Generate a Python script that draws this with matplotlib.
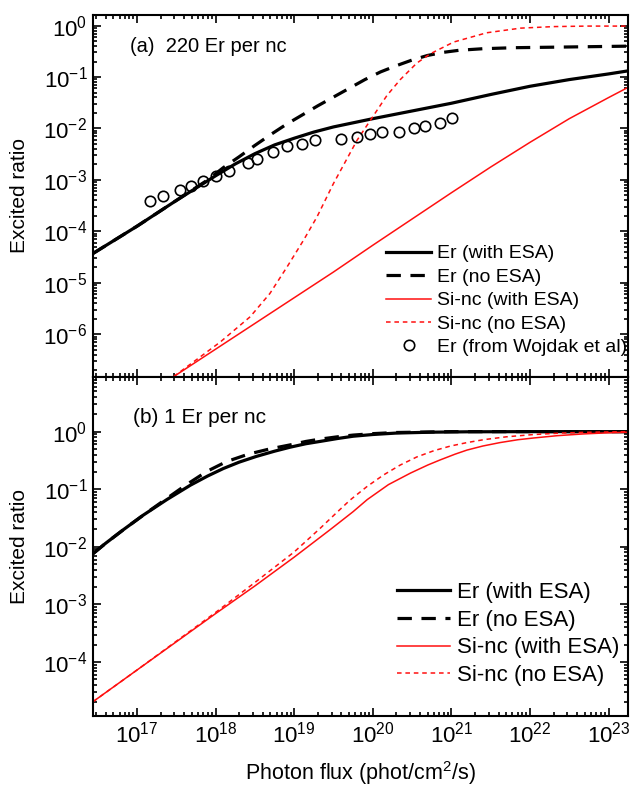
import numpy as np
import matplotlib
matplotlib.use("Agg")
import matplotlib.pyplot as plt
from matplotlib.ticker import LogLocator, NullFormatter

plt.rcParams['font.family'] = ['Liberation Sans', 'DejaVu Sans']
plt.rcParams['mathtext.fontset'] = 'custom'
plt.rcParams['mathtext.rm'] = 'Liberation Sans'
plt.rcParams['mathtext.it'] = 'Liberation Sans:italic'
plt.rcParams['mathtext.default'] = 'regular'

# all values are log10 of photon flux / excited ratio
# (a) 220 Er per nc
a_er_esa_x = [16.44, 17.0, 17.5, 18.0, 18.25, 18.5, 18.75, 19.0, 19.25, 19.5, 19.75, 20.0, 20.3, 20.6, 21.0, 21.5, 22.0, 22.5, 23.0, 23.25]
a_er_esa_y = [-4.43, -3.90, -3.40, -2.92, -2.69, -2.49, -2.32, -2.19, -2.07, -1.97, -1.89, -1.81, -1.72, -1.63, -1.51, -1.34, -1.18, -1.05, -0.94, -0.88]

a_er_noesa_x = [16.44, 17.0, 17.5, 17.9, 18.1, 18.3, 18.5, 18.7, 18.9, 19.1, 19.3, 19.5, 19.7, 19.9, 20.1, 20.3, 20.5, 20.7, 20.9, 21.1, 21.4, 21.8, 22.3, 23.25]
a_er_noesa_y = [-4.43, -3.90, -3.40, -3.00, -2.76, -2.55, -2.33, -2.12, -1.92, -1.74, -1.56, -1.39, -1.22, -1.05, -0.90, -0.78, -0.67, -0.58, -0.52, -0.48, -0.45, -0.43, -0.42, -0.40]

a_si_esa_x = [17.2, 17.46, 18.0, 18.5, 19.0, 19.5, 20.0, 20.5, 21.0, 21.5, 22.0, 22.5, 23.0, 23.25]
a_si_esa_y = [-7.09, -6.83, -6.29, -5.79, -5.29, -4.79, -4.27, -3.76, -3.25, -2.75, -2.27, -1.81, -1.40, -1.20]

a_si_noesa_x = [17.2, 17.46, 18.06, 18.44, 18.69, 18.91, 19.12, 19.29, 19.50, 19.65, 19.80, 19.97, 20.18, 20.35, 20.56, 20.73, 21.03, 21.45, 21.88, 22.3, 22.73, 23.25]
a_si_noesa_y = [-7.09, -6.83, -6.15, -5.66, -5.21, -4.69, -4.17, -3.72, -3.07, -2.65, -2.23, -1.84, -1.36, -1.05, -0.73, -0.55, -0.32, -0.14, -0.05, -0.02, -0.01, -0.01]

wojdak_x = [17.17, 17.33, 17.55, 17.69, 17.84, 18.01, 18.17, 18.41, 18.53, 18.73, 18.91, 19.10, 19.27, 19.59, 19.80, 19.97, 20.12, 20.34, 20.52, 20.66, 20.85, 21.01]
wojdak_y = [-3.40, -3.31, -3.19, -3.11, -3.02, -2.92, -2.82, -2.67, -2.59, -2.45, -2.35, -2.30, -2.22, -2.20, -2.16, -2.10, -2.06, -2.06, -2.00, -1.96, -1.89, -1.79]

# (b) 1 Er per nc
b_er_esa_x = [16.44, 16.6, 16.83, 17.08, 17.38, 17.68, 17.9, 18.10, 18.3, 18.52, 18.75, 18.95, 19.15, 19.33, 19.55, 19.75, 20.0, 20.3, 20.73, 21.2, 22.0, 23.25]
b_er_esa_y = [-2.12, -1.94, -1.70, -1.45, -1.18, -0.93, -0.77, -0.64, -0.53, -0.43, -0.34, -0.27, -0.21, -0.17, -0.12, -0.08, -0.05, -0.025, -0.01, -0.003, 0.0, 0.0]

b_er_noesa_x = [16.44, 16.6, 16.83, 17.08, 17.38, 17.62, 17.89, 18.14, 18.42, 18.69, 18.95, 19.15, 19.33, 19.55, 19.75, 20.0, 20.3, 21.0, 23.25]
b_er_noesa_y = [-2.12, -1.94, -1.70, -1.45, -1.16, -0.93, -0.69, -0.52, -0.39, -0.30, -0.23, -0.17, -0.13, -0.09, -0.06, -0.035, -0.015, 0.0, 0.0]

b_si_esa_x = [16.44, 17.0, 18.0, 18.5, 19.0, 19.46, 19.75, 19.93, 20.2, 20.48, 20.7, 20.86, 21.05, 21.2, 21.4, 21.62, 21.85, 22.05, 22.35, 22.68, 23.0, 23.25]
b_si_esa_y = [-4.69, -4.14, -3.16, -2.68, -2.18, -1.70, -1.39, -1.18, -0.92, -0.72, -0.58, -0.49, -0.39, -0.32, -0.25, -0.19, -0.14, -0.11, -0.07, -0.04, -0.02, -0.01]

b_si_noesa_x = [16.44, 17.0, 18.0, 18.5, 19.0, 19.33, 19.53, 19.71, 19.93, 20.14, 20.35, 20.56, 20.78, 20.99, 21.2, 21.41, 21.7, 22.05, 22.4, 22.7, 23.25]
b_si_noesa_y = [-4.69, -4.14, -3.14, -2.62, -2.09, -1.68, -1.42, -1.19, -0.95, -0.75, -0.58, -0.44, -0.33, -0.25, -0.19, -0.14, -0.09, -0.05, -0.025, -0.012, 0.0]

x_decades = [17, 18, 19, 20, 21, 22, 23]
a_y_decades = [-6, -5, -4, -3, -2, -1, 0]
b_y_decades = [-4, -3, -2, -1, 0]


def p(v):
    return 10.0 ** np.array(v, dtype=float)


def dec_labels(exps):
    return ['$10^{%d}$' % e for e in exps]


fig = plt.figure(figsize=(6.32, 7.93), dpi=100)
ax1 = fig.add_axes([0.147, 0.525, 0.847, 0.456])
ax2 = fig.add_axes([0.147, 0.097, 0.847, 0.428])

blk = dict(color='black', lw=2.3)
red = dict(color='#ff1010', lw=1.1)

ax1.plot(p(a_er_esa_x), p(a_er_esa_y), label='Er (with ESA)', **blk)
ax1.plot(p(a_er_noesa_x), p(a_er_noesa_y), label='Er (no ESA)', dashes=(4.5, 3), **blk)
ax1.plot(p(a_si_esa_x), p(a_si_esa_y), label='Si-nc (with ESA)', **red)
ax1.plot(p(a_si_noesa_x), p(a_si_noesa_y), label='Si-nc (no ESA)', dashes=(3, 2.5), **red)
ax1.plot(p(wojdak_x), p(wojdak_y), 'o', ms=7.5, mfc='none', mec='black', mew=1.2,
         label='Er (from Wojdak et al)')

ax2.plot(p(b_er_esa_x), p(b_er_esa_y), label='Er (with ESA)', **blk)
ax2.plot(p(b_er_noesa_x), p(b_er_noesa_y), label='Er (no ESA)', dashes=(4.5, 3), **blk)
ax2.plot(p(b_si_esa_x), p(b_si_esa_y), label='Si-nc (with ESA)', **red)
ax2.plot(p(b_si_noesa_x), p(b_si_noesa_y), label='Si-nc (no ESA)', dashes=(3, 2.5), **red)

for ax, ydec in ((ax1, a_y_decades), (ax2, b_y_decades)):
    ax.set_xscale('log')
    ax.set_yscale('log')
    ax.set_xlim(2.75e16, 1.78e23)
    ax.set_xticks(p(x_decades))
    ax.set_xticklabels(dec_labels(x_decades))
    ax.set_yticks(p(ydec))
    ax.set_yticklabels(dec_labels(ydec))
    ax.xaxis.set_minor_locator(LogLocator(base=10, subs=np.arange(2, 10), numticks=100))
    ax.yaxis.set_minor_locator(LogLocator(base=10, subs=np.arange(2, 10), numticks=100))
    ax.xaxis.set_minor_formatter(NullFormatter())
    ax.yaxis.set_minor_formatter(NullFormatter())
    ax.tick_params(which='both', direction='in', top=True, right=True, width=1.2)
    ax.tick_params(which='major', length=6, labelsize=16, pad=4)
    ax.tick_params(which='minor', length=3)
    for s in ax.spines.values():
        s.set_linewidth(1.5)
    ax.set_ylabel('Excited ratio', fontsize=15)
    ax.yaxis.set_label_coords(-0.12, 0.5)

ax1.set_ylim(1.5e-7, 1.6)
ax2.set_ylim(1.15e-5, 9)
ax1.tick_params(labelbottom=False)
ax2.set_xlabel('Photon flux (phot/cm$^2$/s)', fontsize=15.5, labelpad=8)

ax1.text(0.069, 0.912, '(a)  220 Er per nc', transform=ax1.transAxes, fontsize=14.5, va='center')
ax2.text(0.075, 0.88, '(b) 1 Er per nc', transform=ax2.transAxes, fontsize=15, va='center')

ax1.legend(loc='lower right', bbox_to_anchor=(1.012, 0.035), frameon=False, fontsize=14,
           handlelength=2.3, handletextpad=0.3, labelspacing=0.3, borderaxespad=0)
ax2.legend(loc='lower right', bbox_to_anchor=(1.0, 0.062), frameon=False, fontsize=16,
           handlelength=2.4, handletextpad=0.3, labelspacing=0.3, borderaxespad=0)

fig.savefig('out.png', dpi=100)
